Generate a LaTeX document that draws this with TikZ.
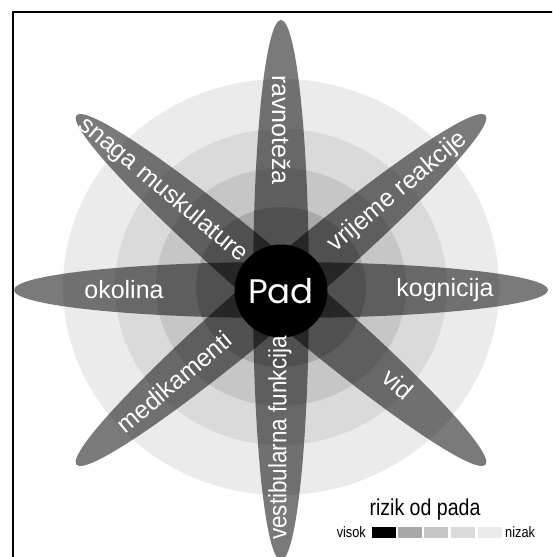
\documentclass[tikz,border=0pt]{standalone}
\usepackage{fontspec}
\setmainfont{Liberation Sans}
\newfontfamily\padfont{Poppins}
\newfontfamily\narrowfont[FakeStretch=0.85]{Liberation Sans}
\newfontfamily\vestfont[FakeStretch=0.9]{Liberation Sans}
\definecolor{ringA}{HTML}{EBEBEB}
\definecolor{ringB}{HTML}{DADADA}
\definecolor{ringC}{HTML}{C6C6C6}
\definecolor{ringD}{HTML}{A9A9A9}
\begin{document}
\begin{tikzpicture}[x=1pt,y=-1pt,
  petal/.style={fill=black,fill opacity=0.52},
  lbl/.style={text=white,font=\fontsize{25}{25}\selectfont,inner sep=0pt},
  legbox/.style={minimum width=24pt,minimum height=11pt,inner sep=0pt,draw=none}]
\useasboundingbox (0,0) rectangle (552,557);
\clip (0,0) rectangle (552,557);
\fill[white] (0,0) rectangle (552,557);
% frame
\draw[line width=2pt] (12.7,560) -- (12.7,12.3) -- (560,12.3);
% risk rings
\fill[ringA] (281,287) ellipse [x radius=218,y radius=208];
\fill[ringB] (281,287) ellipse [x radius=166,y radius=158];
\fill[ringC] (281,287) ellipse [x radius=125,y radius=119];
\fill[ringD] (281,287) ellipse [x radius=85,y radius=80];
% petals
\coordinate (c) at (281,290);
\fill[petal] (c) ellipse [x radius=267,y radius=28];
\fill[petal,rotate around={90:(c)}] (c) ellipse [x radius=270,y radius=28];
\fill[petal,rotate around={40.5:(c)}] (c) ellipse [x radius=269,y radius=28];
\fill[petal,rotate around={-40.5:(c)}] (c) ellipse [x radius=269,y radius=28];
% centre
\node[circle,fill=black,minimum size=93pt,inner sep=0pt,text=white,
      font=\padfont\fontsize{34}{34}\selectfont] (pad) at (281,291) {Pad};
% labels
\node[lbl,rotate=-90] (ravn) at (281,130) {ravnoteža};
\node[lbl,rotate=90] (vest) at (280,438) {\vestfont vestibularna funkcija};
\node[lbl] (okol) at (124,290) {okolina};
\node[lbl] (kogn) at (445,290) {kognicija};
\node[lbl,rotate=-40] (snag) at (163,190) {snaga muskulature};
\node[lbl,rotate=40] (vrij) at (398,192) {vrijeme reakcije};
\node[lbl,rotate=40] (medi) at (174,382) {medikamenti};
\node[lbl,rotate=-40] (vid) at (398,384) {vid};
% legend
\node[anchor=base,inner sep=0pt,font=\narrowfont\fontsize{23}{23}\selectfont] (riz) at (425,515) {rizik od pada};
\node[legbox,fill=black] (b1) at (383.5,532.5) {};
\node[legbox,fill=ringD] (b2) at (410,532.5) {};
\node[legbox,fill=ringC] (b3) at (436,532.5) {};
\node[legbox,fill=ringB] (b4) at (463,532.5) {};
\node[legbox,fill=ringA] (b5) at (490,532.5) {};
\node[anchor=east,inner sep=0pt,font=\narrowfont\fontsize{15}{15}\selectfont] (vis) at (366,532) {visok};
\node[anchor=west,inner sep=0pt,font=\narrowfont\fontsize{15}{15}\selectfont] (niz) at (505,532) {nizak};
\end{tikzpicture}
\end{document}
